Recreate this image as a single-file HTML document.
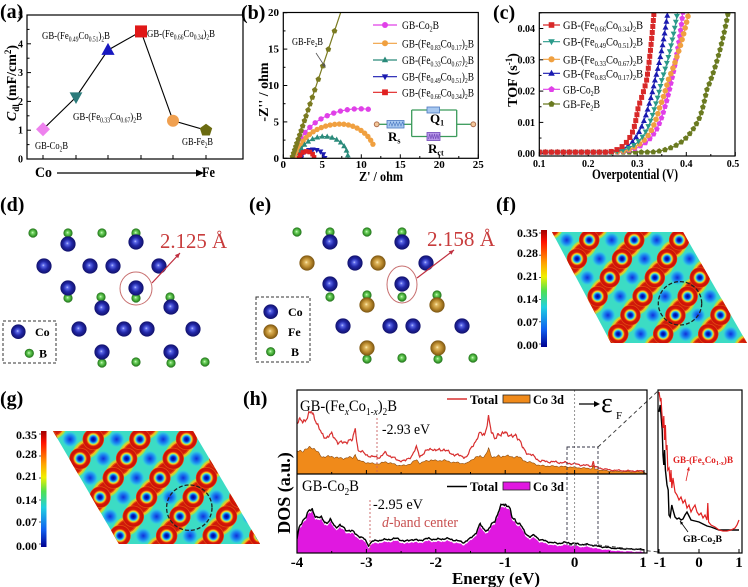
<!DOCTYPE html>
<html><head><meta charset="utf-8">
<style>
html,body{margin:0;padding:0;background:#fff;}
svg{display:block;}
text{font-family:"Liberation Serif",serif;}
.sa{font-family:"Liberation Sans",sans-serif;font-weight:bold;font-size:12px;}
.b{font-weight:bold;}
</style></head><body>
<svg id="c" xmlns="http://www.w3.org/2000/svg" width="748" height="587" viewBox="0 0 748 587">
<defs>
<radialGradient id="gCo" cx="50%" cy="50%" r="50%" fx="45%" fy="45%"><stop offset="0" stop-color="#c0c8ff"/><stop offset="0.18" stop-color="#5a66e8"/><stop offset="0.55" stop-color="#2228a8"/><stop offset="1" stop-color="#10106a"/></radialGradient>
<radialGradient id="gFe" cx="50%" cy="50%" r="50%" fx="45%" fy="45%"><stop offset="0" stop-color="#fff0b8"/><stop offset="0.2" stop-color="#e0b860"/><stop offset="0.6" stop-color="#b8882c"/><stop offset="1" stop-color="#7a5410"/></radialGradient>
<radialGradient id="gB" cx="50%" cy="50%" r="50%" fx="45%" fy="45%"><stop offset="0" stop-color="#e0ffd8"/><stop offset="0.25" stop-color="#78d868"/><stop offset="0.7" stop-color="#3ca030"/><stop offset="1" stop-color="#1e6a18"/></radialGradient>
<linearGradient id="jet" x1="0" y1="0" x2="0" y2="1"><stop offset="0" stop-color="#a00000"/><stop offset="0.1" stop-color="#ff1000"/><stop offset="0.28" stop-color="#ffa000"/><stop offset="0.4" stop-color="#f0f000"/><stop offset="0.52" stop-color="#50e050"/><stop offset="0.66" stop-color="#20d0e0"/><stop offset="0.85" stop-color="#1060f0"/><stop offset="1" stop-color="#000090"/></linearGradient>
<radialGradient id="gRing" cx="50%" cy="50%" r="50%"><stop offset="0" stop-color="#000090"/><stop offset="0.2" stop-color="#0030d0"/><stop offset="0.32" stop-color="#20a0f0"/><stop offset="0.4" stop-color="#60e0c0"/><stop offset="0.48" stop-color="#f0e020"/><stop offset="0.56" stop-color="#f07010"/><stop offset="0.64" stop-color="#d81808"/><stop offset="0.88" stop-color="#c81008"/><stop offset="0.96" stop-color="#e85010"/><stop offset="1" stop-color="#f0a020" stop-opacity="0"/></radialGradient>
<radialGradient id="gDot" cx="50%" cy="50%" r="50%"><stop offset="0" stop-color="#1030d8"/><stop offset="0.45" stop-color="#1a80f0"/><stop offset="0.8" stop-color="#30c8e0"/><stop offset="1" stop-color="#3cdcc4" stop-opacity="0"/></radialGradient>
<clipPath id="cf"><polygon points="552,232 683,232 747,343 611,343"/></clipPath>
<clipPath id="cg"><polygon points="53,431 193,431 260,544 119,544"/></clipPath>
<clipPath id="cb"><rect x="283" y="12" width="195" height="146.3"/></clipPath>
<clipPath id="cc"><rect x="539" y="12.7" width="196" height="143.3"/></clipPath>
<clipPath id="ch"><rect x="297" y="390" width="350" height="163"/></clipPath>
<clipPath id="ci"><rect x="658" y="390" width="84" height="163"/></clipPath>
</defs>
<rect width="748" height="587" fill="#fff"/>
<g id="La"></g><g id="Lb"></g><g id="Lc"></g><g id="Ld"></g><g id="Lf"></g><g id="Lh"></g>

<!-- frames -->
<g fill="none" stroke="#000" stroke-width="1.2">
<rect x="27" y="15" width="216" height="144"/>
<rect x="283.3" y="12.5" width="195" height="145.8"/>
<rect x="539.3" y="12.7" width="195.7" height="143.3"/>
<rect x="297" y="390" width="350" height="163"/>
<line x1="297" y1="474" x2="647" y2="474"/>
<rect x="658" y="390" width="84" height="163"/>
</g>

<!-- panel labels -->
<g class="b" font-size="20">
<text x="0" y="18">(a)</text>
<text x="241" y="19">(b)</text>
<text x="493" y="19">(c)</text>
<text x="0" y="211">(d)</text>
<text x="249" y="211">(e)</text>
<text x="496" y="211">(f)</text>
<text x="0" y="405">(g)</text>
<text x="243" y="405">(h)</text>
</g>

<!-- (a) text -->
<g class="b" font-size="10" text-anchor="end">
<text x="23" y="162.5">0</text><text x="23" y="133.7">1</text><text x="23" y="104.9">2</text><text x="23" y="76.1">3</text><text x="23" y="47.3">4</text><text x="23" y="18.5">5</text>
</g>
<text class="b" font-size="14" transform="translate(16,83) rotate(-90)" text-anchor="middle"><tspan font-style="italic">C</tspan><tspan font-size="9" dy="3">dl</tspan><tspan dy="-3"> (mF/cm</tspan><tspan font-size="9" dy="-5">2</tspan><tspan dy="5">)</tspan></text>
<g font-size="11">
<text x="42" y="39" textLength="68" lengthAdjust="spacingAndGlyphs">GB-(Fe<tspan font-size="7" dy="2.5">0.49</tspan><tspan dy="-2.5">Co</tspan><tspan font-size="7" dy="2.5">0.51</tspan><tspan dy="-2.5">)</tspan><tspan font-size="7" dy="2.5">2</tspan><tspan dy="-2.5">B</tspan></text>
<text x="147" y="37" textLength="68" lengthAdjust="spacingAndGlyphs">GB-(Fe<tspan font-size="7" dy="2.5">0.66</tspan><tspan dy="-2.5">Co</tspan><tspan font-size="7" dy="2.5">0.34</tspan><tspan dy="-2.5">)</tspan><tspan font-size="7" dy="2.5">2</tspan><tspan dy="-2.5">B</tspan></text>
<text x="73" y="120" textLength="69" lengthAdjust="spacingAndGlyphs">GB-(Fe<tspan font-size="7" dy="2.5">0.33</tspan><tspan dy="-2.5">Co</tspan><tspan font-size="7" dy="2.5">0.67</tspan><tspan dy="-2.5">)</tspan><tspan font-size="7" dy="2.5">2</tspan><tspan dy="-2.5">B</tspan></text>
<text x="35" y="149" textLength="33" lengthAdjust="spacingAndGlyphs">GB-Co<tspan font-size="7" dy="2.5">2</tspan><tspan dy="-2.5">B</tspan></text>
<text x="182" y="145" textLength="31" lengthAdjust="spacingAndGlyphs">GB-Fe<tspan font-size="7" dy="2.5">2</tspan><tspan dy="-2.5">B</tspan></text>
</g>
<g class="b" font-size="15">
<text x="35" y="177" textLength="17" lengthAdjust="spacingAndGlyphs">Co</text>
<text x="202" y="177" textLength="13" lengthAdjust="spacingAndGlyphs">Fe</text>
</g>
<line x1="57" y1="173" x2="198" y2="173" stroke="#000" stroke-width="1.3"/>
<polygon points="196,169.5 204,173 196,176.5" fill="#000"/>

<!-- (b) text -->
<g class="b" font-size="11" text-anchor="end">
<text x="279" y="162">0</text><text x="279" y="125.5">5</text><text x="279" y="89">10</text><text x="279" y="52.6">15</text><text x="279" y="16.2">20</text>
</g>
<g class="b" font-size="11" text-anchor="middle">
<text x="283.3" y="168">0</text><text x="322.3" y="168">5</text><text x="361.3" y="168">10</text><text x="400.3" y="168">15</text><text x="439.3" y="168">20</text><text x="478.3" y="168">25</text>
</g>
<text class="b" font-size="14" x="381" y="181" text-anchor="middle" textLength="44" lengthAdjust="spacingAndGlyphs">Z' / ohm</text>
<text class="b" font-size="14" transform="translate(268,92) rotate(-90)" text-anchor="middle">-Z'' / ohm</text>
<text x="292" y="45" font-size="10" textLength="31" lengthAdjust="spacingAndGlyphs">GB-Fe<tspan font-size="6.5" dy="2">2</tspan><tspan dy="-2">B</tspan></text>
<g font-size="12">
<text x="402" y="29" textLength="37" lengthAdjust="spacingAndGlyphs">GB-Co<tspan font-size="7.5" dy="2.5">2</tspan><tspan dy="-2.5">B</tspan></text>
<text x="402" y="47.3" textLength="72" lengthAdjust="spacingAndGlyphs">GB-(Fe<tspan font-size="7.5" dy="2.5">0.83</tspan><tspan dy="-2.5">Co</tspan><tspan font-size="7.5" dy="2.5">0.17</tspan><tspan dy="-2.5">)</tspan><tspan font-size="7.5" dy="2.5">2</tspan><tspan dy="-2.5">B</tspan></text>
<text x="402" y="64" textLength="72" lengthAdjust="spacingAndGlyphs">GB-(Fe<tspan font-size="7.5" dy="2.5">0.33</tspan><tspan dy="-2.5">Co</tspan><tspan font-size="7.5" dy="2.5">0.67</tspan><tspan dy="-2.5">)</tspan><tspan font-size="7.5" dy="2.5">2</tspan><tspan dy="-2.5">B</tspan></text>
<text x="402" y="80.7" textLength="72" lengthAdjust="spacingAndGlyphs">GB-(Fe<tspan font-size="7.5" dy="2.5">0.49</tspan><tspan dy="-2.5">Co</tspan><tspan font-size="7.5" dy="2.5">0.51</tspan><tspan dy="-2.5">)</tspan><tspan font-size="7.5" dy="2.5">2</tspan><tspan dy="-2.5">B</tspan></text>
<text x="402" y="96.3" textLength="72" lengthAdjust="spacingAndGlyphs">GB-(Fe<tspan font-size="7.5" dy="2.5">0.66</tspan><tspan dy="-2.5">Co</tspan><tspan font-size="7.5" dy="2.5">0.34</tspan><tspan dy="-2.5">)</tspan><tspan font-size="7.5" dy="2.5">2</tspan><tspan dy="-2.5">B</tspan></text>
</g>
<!-- circuit -->
<g stroke="#3a9a5a" stroke-width="1.3" fill="none">
<line x1="379" y1="124.3" x2="387" y2="124.3"/><line x1="404" y1="124.3" x2="411.7" y2="124.3"/>
<line x1="411.7" y1="110" x2="411.7" y2="136.5"/><line x1="456.7" y1="110" x2="456.7" y2="136.5"/>
<line x1="411.7" y1="110" x2="456.7" y2="110"/><line x1="411.7" y1="136.5" x2="456.7" y2="136.5"/>
<line x1="456.7" y1="124.3" x2="471" y2="124.3"/>
</g>
<circle cx="376.7" cy="124.3" r="2.4" fill="#f4c89a" stroke="#b07050"/>
<circle cx="473.3" cy="124.3" r="2.4" fill="#f4c89a" stroke="#b07050"/>
<rect x="387" y="120.5" width="17" height="7.5" fill="#a8c8f0" stroke="#4a78c0" stroke-width="0.8"/>
<path d="M389,126 l1.5,-4 l1.5,4 l1.5,-4 l1.5,4 l1.5,-4 l1.5,4 l1.5,-4 l1.5,4 l1.5,-4 l1.5,4" fill="none" stroke="#4a78c0" stroke-width="0.6"/>
<rect x="427" y="107" width="12.5" height="6" fill="#a8c8f0" stroke="#4a78c0" stroke-width="0.8"/>
<rect x="427" y="132.5" width="13" height="8" fill="#b898e8" stroke="#7048b8" stroke-width="0.8"/>
<path d="M428.5,139 l1.2,-5 l1.2,5 l1.2,-5 l1.2,5 l1.2,-5 l1.2,5 l1.2,-5 l1.2,5 l1.2,-5" fill="none" stroke="#7048b8" stroke-width="0.6"/>
<g class="b" font-size="13">
<text x="430" y="123">Q<tspan font-size="8" dy="2.5">1</tspan></text>
<text x="388" y="141">R<tspan font-size="8" dy="2.5">s</tspan></text>
<text x="428" y="153">R<tspan font-size="8" dy="2.5">ct</tspan></text>
</g>

<!-- (c) text -->
<g class="b" font-size="10" text-anchor="end">
<text x="535" y="157.2">0.00</text><text x="535" y="125.9">0.01</text><text x="535" y="94.6">0.02</text><text x="535" y="63.3">0.03</text><text x="535" y="32">0.04</text>
</g>
<g class="b" font-size="10" text-anchor="middle">
<text x="539.3" y="167">0.1</text><text x="588.3" y="167">0.2</text><text x="637.3" y="167">0.3</text><text x="686.3" y="167">0.4</text><text x="733" y="167">0.5</text>
</g>
<text class="b" font-size="15" x="635" y="179" text-anchor="middle" textLength="86" lengthAdjust="spacingAndGlyphs">Overpotential (V)</text>
<text class="b" font-size="14" transform="translate(517,80) rotate(-90)" text-anchor="middle">TOF (s<tspan font-size="9" dy="-5">-1</tspan><tspan dy="5">)</tspan></text>
<g font-size="12">
<text x="563" y="29" textLength="80" lengthAdjust="spacingAndGlyphs">GB-(Fe<tspan font-size="7.5" dy="2.5">0.66</tspan><tspan dy="-2.5">Co</tspan><tspan font-size="7.5" dy="2.5">0.34</tspan><tspan dy="-2.5">)</tspan><tspan font-size="7.5" dy="2.5">2</tspan><tspan dy="-2.5">B</tspan></text>
<text x="563" y="45.7" textLength="80" lengthAdjust="spacingAndGlyphs">GB-(Fe<tspan font-size="7.5" dy="2.5">0.49</tspan><tspan dy="-2.5">Co</tspan><tspan font-size="7.5" dy="2.5">0.51</tspan><tspan dy="-2.5">)</tspan><tspan font-size="7.5" dy="2.5">2</tspan><tspan dy="-2.5">B</tspan></text>
<text x="563" y="63.3" textLength="80" lengthAdjust="spacingAndGlyphs">GB-(Fe<tspan font-size="7.5" dy="2.5">0.33</tspan><tspan dy="-2.5">Co</tspan><tspan font-size="7.5" dy="2.5">0.67</tspan><tspan dy="-2.5">)</tspan><tspan font-size="7.5" dy="2.5">2</tspan><tspan dy="-2.5">B</tspan></text>
<text x="563" y="77.3" textLength="80" lengthAdjust="spacingAndGlyphs">GB-(Fe<tspan font-size="7.5" dy="2.5">0.83</tspan><tspan dy="-2.5">Co</tspan><tspan font-size="7.5" dy="2.5">0.17</tspan><tspan dy="-2.5">)</tspan><tspan font-size="7.5" dy="2.5">2</tspan><tspan dy="-2.5">B</tspan></text>
<text x="563" y="93.3" textLength="37" lengthAdjust="spacingAndGlyphs">GB-Co<tspan font-size="7.5" dy="2.5">2</tspan><tspan dy="-2.5">B</tspan></text>
<text x="563" y="108" textLength="37" lengthAdjust="spacingAndGlyphs">GB-Fe<tspan font-size="7.5" dy="2.5">2</tspan><tspan dy="-2.5">B</tspan></text>
</g>

<!-- (d)(e) text -->
<text x="160" y="248" font-size="21" fill="#c83c3c" textLength="67" lengthAdjust="spacingAndGlyphs">2.125 Å</text>
<text x="427" y="246" font-size="21" fill="#c83c3c" textLength="68" lengthAdjust="spacingAndGlyphs">2.158 Å</text>
<g class="b" font-size="12">
<text x="35" y="336">Co</text><text x="39" y="357.5">B</text>
<text x="288" y="316">Co</text><text x="288" y="336">Fe</text><text x="291" y="356">B</text>
</g>

<!-- (f)(g) colorbar labels -->
<g class="sa" text-anchor="end">
<text x="538" y="237">0.35</text><text x="538" y="257">0.28</text><text x="538" y="280">0.21</text><text x="538" y="303">0.14</text><text x="538" y="326">0.07</text><text x="538" y="349">0.00</text>
<text x="37" y="439">0.35</text><text x="37" y="458">0.28</text><text x="37" y="480">0.21</text><text x="37" y="504">0.14</text><text x="37" y="526">0.07</text><text x="37" y="550">0.00</text>
</g>

<!-- (h) text -->
<text x="300" y="411" font-size="16" textLength="97" lengthAdjust="spacingAndGlyphs">GB-(Fe<tspan font-size="10" dy="4" font-style="italic">x</tspan><tspan dy="-4">Co</tspan><tspan font-size="10" dy="4">1-<tspan font-style="italic">x</tspan></tspan><tspan dy="-4">)</tspan><tspan font-size="10" dy="4">2</tspan><tspan dy="-4">B</tspan></text>
<text x="382" y="434" font-size="15" textLength="48" lengthAdjust="spacingAndGlyphs">-2.93 eV</text>
<text x="302" y="491" font-size="16" textLength="57" lengthAdjust="spacingAndGlyphs">GB-Co<tspan font-size="10" dy="4">2</tspan><tspan dy="-4">B</tspan></text>
<text x="373" y="509" font-size="15" textLength="50" lengthAdjust="spacingAndGlyphs">-2.95 eV</text>
<text x="382" y="527" font-size="15" fill="#c85050" textLength="76" lengthAdjust="spacingAndGlyphs"><tspan font-style="italic">d</tspan>-band center</text>
<g class="b" font-size="13">
<text x="470" y="404" textLength="28" lengthAdjust="spacingAndGlyphs">Total</text>
<text x="533" y="404" textLength="31" lengthAdjust="spacingAndGlyphs">Co 3d</text>
<text x="470" y="491" textLength="28" lengthAdjust="spacingAndGlyphs">Total</text>
<text x="533" y="491" textLength="31" lengthAdjust="spacingAndGlyphs">Co 3d</text>
</g>
<line x1="447" y1="399" x2="467" y2="399" stroke="#d83030" stroke-width="1.5"/>
<rect x="503" y="395" width="27" height="8" fill="#f08a1a" stroke="#222" stroke-width="0.8"/>
<line x1="447" y1="486.5" x2="467" y2="486.5" stroke="#000" stroke-width="1.5"/>
<rect x="503" y="482" width="27" height="8" fill="#e018e0" stroke="#222" stroke-width="0.8"/>
<line x1="579" y1="404" x2="596" y2="404" stroke="#000" stroke-width="1.2"/>
<polygon points="594,401 600,404 594,407" fill="#000"/>
<text x="601" y="412" font-size="28">ε</text>
<text x="616" y="419" font-size="11">F</text>
<g class="b" font-size="15" text-anchor="middle">
<text x="297" y="567">-4</text><text x="366.4" y="567">-3</text><text x="435.8" y="567">-2</text><text x="505.2" y="567">-1</text><text x="574.6" y="567">0</text><text x="643" y="567">1</text>
<text x="660" y="567">-1</text><text x="699" y="567">0</text><text x="739" y="567">1</text>
</g>
<text class="b" font-size="17" x="496" y="584" text-anchor="middle" textLength="88" lengthAdjust="spacingAndGlyphs">Energy (eV)</text>
<text class="b" font-size="18" transform="translate(290,493) rotate(-90)" text-anchor="middle">DOS (a.u.)</text>
<text class="b" x="673" y="463" font-size="9" fill="#e02020" textLength="60" lengthAdjust="spacingAndGlyphs">GB-(Fe<tspan font-size="6" dy="2">x</tspan><tspan dy="-2">Co</tspan><tspan font-size="6" dy="2">1-x</tspan><tspan dy="-2">)B</tspan></text>
<text class="b" x="683" y="542" font-size="9" fill="#000" textLength="39" lengthAdjust="spacingAndGlyphs">GB-Co<tspan font-size="6" dy="2">2</tspan><tspan dy="-2">B</tspan></text>
</svg>
<script>
(function(){
const NS='http://www.w3.org/2000/svg';
function E(t,a,p){const e=document.createElementNS(NS,t);for(const k in a)e.setAttribute(k,a[k]);p.appendChild(e);return e;}
function poly(pts){return pts.map(p=>p[0].toFixed(1)+','+p[1].toFixed(1)).join(' ');}
function mk(p,t,x,y,s,f){
 if(t==='c')return E('circle',{cx:x,cy:y,r:s,fill:f},p);
 if(t==='sq')return E('rect',{x:x-s,y:y-s,width:2*s,height:2*s,fill:f},p);
 if(t==='tri')return E('polygon',{points:poly([[x,y-1.2*s],[x+1.1*s,y+0.8*s],[x-1.1*s,y+0.8*s]]),fill:f},p);
 if(t==='itri')return E('polygon',{points:poly([[x,y+1.2*s],[x+1.1*s,y-0.8*s],[x-1.1*s,y-0.8*s]]),fill:f},p);
 if(t==='dia')return E('polygon',{points:poly([[x,y-s],[x+s,y],[x,y+s],[x-s,y]]),fill:f},p);
 if(t==='pent'){const q=[];for(let k=0;k<5;k++){const a=-Math.PI/2+k*2*Math.PI/5;q.push([x+s*Math.cos(a),y+s*Math.sin(a)]);}return E('polygon',{points:poly(q),fill:f},p);}
}
function along(p,pts,d,t,s,f){
 let prev=pts[0];mk(p,t,prev[0],prev[1],s,f);let rem=d;
 for(let i=1;i<pts.length;i++){let a=prev,b=pts[i];let seg=Math.hypot(b[0]-a[0],b[1]-a[1]);
  while(seg>=rem){const r=rem/seg;const nx=a[0]+(b[0]-a[0])*r,ny=a[1]+(b[1]-a[1])*r;mk(p,t,nx,ny,s,f);a=[nx,ny];seg-=rem;rem=d;}
  rem-=seg;prev=b;}
}
function line(p,x1,y1,x2,y2,c,w,extra){const a={x1:x1,y1:y1,x2:x2,y2:y2,stroke:c,'stroke-width':w};if(extra)for(const k in extra)a[k]=extra[k];return E('line',a,p);}
function arrow(p,x1,y1,x2,y2,c,w,h){line(p,x1,y1,x2,y2,c,w);const ang=Math.atan2(y2-y1,x2-x1);const q=[[x2,y2],[x2-h*Math.cos(ang)+h*0.45*Math.sin(ang),y2-h*Math.sin(ang)-h*0.45*Math.cos(ang)],[x2-h*Math.cos(ang)-h*0.45*Math.sin(ang),y2-h*Math.sin(ang)+h*0.45*Math.cos(ang)]];E('polygon',{points:poly(q),fill:c},p);}
function lin(pts,x){if(x<=pts[0][0])return pts[0][1];for(let i=1;i<pts.length;i++){if(x<=pts[i][0]){const a=pts[i-1],b=pts[i];return a[1]+(b[1]-a[1])*(x-a[0])/(b[0]-a[0]);}}return pts[pts.length-1][1];}
function nz(e,s){return 0.5*Math.sin(e*41+s)+0.3*Math.sin(e*97+s*2.3)+0.2*Math.sin(e*187+s*1.7);}

/* ---------- (a) ---------- */
const La=document.getElementById('La');
for(let v=0;v<=5;v++){const y=159-v*28.8;line(La,27,y,31,y,'#000',1);if(v<5)line(La,27,y-14.4,29.5,y-14.4,'#000',1);}
const ax=[43,76,108,141,173,206],av=[1.03,2.15,3.78,4.43,1.33,1.0];
ax.forEach(x=>line(La,x,159,x,155,'#000',1));
E('polyline',{points:poly(ax.map((x,i)=>[x,159-av[i]*28.8])),fill:'none',stroke:'#000','stroke-width':1.1},La);
const am=[['dia','#ee82ee',7],['itri','#2b7b7b',5.8],['tri','#1818c0',6],['sq','#e01818',6],['c','#f0a050',6],['pent','#6b6b10',6.5]];
am.forEach((m,i)=>mk(La,m[0],ax[i],159-av[i]*28.8,m[2],m[1]));

/* ---------- (b) ---------- */
const Lb=document.getElementById('Lb');
for(let v=0;v<=20;v+=5){const y=158.3-v*7.28;line(Lb,283.3,y,287.3,y,'#000',1);if(v<20)line(Lb,283.3,y-18.2,285.5,y-18.2,'#000',1);}
for(let z=0;z<=25;z+=5){const x=283.3+z*7.8;line(Lb,x,158.3,x,154.3,'#000',1);if(z<25)line(Lb,x+19.5,158.3,x+19.5,156,'#000',1);}
const XB=z=>283.3+z*7.8,YB=v=>158.3-v*7.28;
function ell(xc,rxL,rxR,ry,t0,t1,n){const pts=[];for(let k=0;k<=n;k++){const th=(t0+(t1-t0)*k/n)*Math.PI/180;const c=Math.cos(th);const rx=c<0?rxL:rxR;pts.push([XB(xc+rx*c),YB(ry*Math.sin(th))]);}return pts;}
const gb=E('g',{'clip-path':'url(#cb)'},Lb);
const bs=[
 {c:'#e040e8',m:'c',s:2.7,d:7,p:ell(9.8,8.2,8.2,6.8,180,80,120)},
 {c:'#f0a040',m:'c',s:2.7,d:4.6,p:ell(7.3,5.5,4.6,4.7,180,22,120)},
 {c:'#2a8a7a',m:'tri',s:2.6,d:5,p:ell(5.3,3.3,3.0,3.0,180,0,100)},
 {c:'#1a1ab0',m:'itri',s:2.6,d:4,p:ell(3.8,1.5,1.5,1.2,180,0,60)},
 {c:'#e02020',m:'sq',s:2.3,d:3.6,p:ell(3.0,0.95,0.95,0.95,180,0,60)}
];
bs.forEach(s=>{E('polyline',{points:poly(s.p),fill:'none',stroke:s.c,'stroke-width':1.1},gb);along(gb,s.p,s.d,s.m,s.s,s.c);});
line(gb,XB(1.1),YB(0),XB(1.1+21/3.2),YB(21),'#7a7a20',1.2);
[31,49.3,66,79.3,90,97.3,104,110,116,120.7,126,130.7,135,139.3,143.3,146.7,150,153.3,156.7].forEach(y=>{const v=(158.3-y)/7.28;mk(gb,'pent',XB(1.1+v/3.2),y,3,'#7a7a20');});
arrow(Lb,316,53,325.5,67.5,'#555',0.8,4);
const bly=[25,43.3,60,76.7,92.3];
bs.forEach((s,i)=>{line(Lb,373,bly[i],397,bly[i],s.c,1.2);mk(Lb,s.m,385,bly[i],s.m==='c'?3:2.9,s.c);});

/* ---------- (c) ---------- */
const Lc=document.getElementById('Lc');
const XC=e=>539.3+(e-0.1)*490,YC=t=>153.7-t*3130;
for(let t=0;t<=0.04001;t+=0.01){const y=YC(t);line(Lc,539.3,y,543.3,y,'#000',1);line(Lc,539.3,y-15.65,541.5,y-15.65,'#000',1);}
for(let e=0.1;e<=0.5001;e+=0.1){const x=XC(e);line(Lc,x,156,x,152,'#000',1);if(e<0.45)line(Lc,x+24.5,156,x+24.5,154,'#000',1);}
function tofF(p,eta){const n=p.length;if(eta<=p[0][0])return p[0][1];let i=1;while(i<n-1&&eta>p[i][0])i++;const a=p[i-1],b=p[i];const la=Math.log(a[1]),lb=Math.log(b[1]);return Math.exp(la+(lb-la)*(eta-a[0])/(b[0]-a[0]));}
const cs=[
 {c:'#d82828',m:'sq',s:2.5,p:[[0.24,0.0005],[0.292,0.0076],[0.302,0.015],[0.319,0.0235],[0.334,0.045]]},
 {c:'#2a9a8a',m:'itri',s:2.7,p:[[0.25,0.0005],[0.319,0.0076],[0.336,0.015],[0.35,0.0235],[0.382,0.045]]},
 {c:'#f0a040',m:'c',s:2.8,p:[[0.255,0.0005],[0.329,0.0076],[0.346,0.015],[0.363,0.0235],[0.405,0.045]]},
 {c:'#1a1ab0',m:'tri',s:2.7,p:[[0.245,0.0005],[0.3055,0.0076],[0.3225,0.015],[0.336,0.0235],[0.362,0.045]]},
 {c:'#e040e8',m:'pent',s:3,p:[[0.26,0.0005],[0.339,0.0076],[0.3565,0.015],[0.37,0.0235],[0.393,0.045]]},
 {c:'#6a7a20',m:'pent',s:3,p:[[0.33,0.0005],[0.373,0.0022],[0.4076,0.0065],[0.428,0.0118],[0.4416,0.0203],[0.483,0.043]]}
];
const gc=E('g',{'clip-path':'url(#cc)'},Lc);
for(let k=cs.length-1;k>=0;k--){const s=cs[k];const pts=[];for(let e=0.1;e<=0.5;e+=0.0005){const y=YC(tofF(s.p,e));pts.push([XC(e),y]);if(y<11)break;}
 E('polyline',{points:poly(pts),fill:'none',stroke:s.c,'stroke-width':1},gc);along(gc,pts,6,s.m,s.s,s.c);}
const cly=[25,41.7,59.3,73.3,89.3,104];
cs.forEach((s,i)=>{line(Lc,543,cly[i],560,cly[i],s.c,1.2);mk(Lc,s.m,551.5,cly[i],s.s+0.3,s.c);});

/* ---------- (d)(e) ---------- */
const Ld=document.getElementById('Ld');
function at(list,g,r){list.forEach(p=>E('circle',{cx:p[0],cy:p[1],r:r,fill:'url(#'+g+')'},Ld));}
at([[33,233],[68,233],[102,233],[136,233],[68,298],[136,298],[101,297],[170,297],[102,363],[171,363],[136,362],[205,362]],'gB',4.6);
at([[68,244],[136,242],[44,266],[90,266],[113,266],[159,266],[68,288],[136,288],[102,308],[171,307],[79,329],[124,329],[147,329],[193,329],[102,352],[171,352]],'gCo',7.6);
E('ellipse',{cx:136,cy:288.5,rx:16,ry:16.5,fill:'none',stroke:'#c87070','stroke-width':1},Ld);
arrow(Ld,152,283,180,253,'#c03040',1.2,5);
E('rect',{x:3,y:321,width:53,height:42,fill:'none',stroke:'#333','stroke-width':1,'stroke-dasharray':'3,2'},Ld);
at([[18.3,331.7]],'gCo',7.3);at([[29.3,353.3]],'gB',4.6);
at([[297,232],[330,232],[367,232],[402,232],[330,297],[402,297],[367,295],[437,295],[367,359],[438,359],[402,358],[473,358]],'gB',4.6);
at([[330,242],[402,242],[355,263],[426,263],[330,284],[402,284],[343,326],[390,326],[413,326],[462,326]],'gCo',7.6);
at([[307,263],[378,263],[367,305],[437,305],[367,348],[438,348]],'gFe',7.6);
E('ellipse',{cx:402,cy:284.5,rx:15,ry:18.5,fill:'none',stroke:'#c87070','stroke-width':1},Ld);
arrow(Ld,417,278,454,250,'#c03040',1.2,5);
E('rect',{x:256,y:297,width:54,height:65,fill:'none',stroke:'#333','stroke-width':1,'stroke-dasharray':'3,2'},Ld);
at([[270.7,311.7]],'gCo',7.3);at([[270.7,331.7]],'gFe',7.3);at([[270.7,351.7]],'gB',4.6);

/* ---------- (f)(g) ---------- */
const Lf=document.getElementById('Lf');
function contour(clip,x0,y0,dx,sx,dy,rr,circ,cb){
 const g=E('g',{'clip-path':'url(#'+clip+')'},Lf);
 E('rect',{x:0,y:0,width:748,height:587,fill:'#3cdcc4'},g);
 const sites=[];
 for(let j=-1;j<=6;j++)for(let i=-2;i<=8;i++){const red=(((i+j)%2)+2)%2===1;sites.push({i:i,j:j,x:x0+j*sx+i*dx,y:y0+j*dy,red:red});}
 const pos=(i,j)=>[x0+j*sx+i*dx,y0+j*dy];
 const layers=[[rr*1.75,'#a0e050'],[rr*1.5,'#f0c020'],[rr*1.25,'#e85010'],[rr*1.05,'#d01a0a']];
 layers.forEach(L=>{sites.forEach(s=>{if(!s.red)return;const q=pos(s.i+1,s.j-1);
   const mx=(s.x+q[0])/2,my=(s.y+q[1])/2;
   E('path',{d:`M${s.x.toFixed(1)},${s.y.toFixed(1)} Q${(mx-4).toFixed(1)},${(my+1).toFixed(1)} ${mx.toFixed(1)},${my.toFixed(1)} T${q[0].toFixed(1)},${q[1].toFixed(1)}`,fill:'none',stroke:L[1],'stroke-width':L[0],'stroke-linecap':'round'},g);});});
 sites.forEach(s=>{if(!s.red)E('circle',{cx:s.x,cy:s.y,r:rr*0.75,fill:'url(#gDot)'},g);});
 sites.forEach(s=>{if(s.red)E('circle',{cx:s.x,cy:s.y,r:rr,fill:'url(#gRing)'},g);});
 E('circle',{cx:circ[0],cy:circ[1],r:circ[2],fill:'none',stroke:'#222','stroke-width':1.3,'stroke-dasharray':'4,2'},Lf);
 E('rect',{x:cb[0],y:cb[1],width:cb[2],height:cb[3],fill:'url(#jet)'},Lf);
 for(let k=0;k<=5;k++){const y=cb[1]+3+k*(cb[3]-6)/5;line(Lf,cb[0]-2,y,cb[0],y,'#333',0.8);}
}
contour('cf',566.7,240,22.5,10.3,18.8,10.5,[680,303.3,21.7],[541,230,6,117]);
contour('cg',70,439.3,23.3,10,19.3,11,[189.3,507.7,22.7],[41,431,5.5,116]);

/* ---------- (h) ---------- */
const Lh=document.getElementById('Lh');
const XE=e=>297+(e+4)*69.4;
const envT=[[-4,50],[-3.95,53],[-3.88,55],[-3.84,57],[-3.79,62],[-3.74,57],[-3.69,46],[-3.64,39],[-3.57,37],[-3.5,39],[-3.45,36],[-3.4,31],[-3.33,31],[-3.26,34],[-3.2,33],[-3.16,46],[-3.12,24],[-3.02,20],[-2.92,17],[-2.8,17],[-2.73,21],[-2.63,17],[-2.56,14],[-2.44,13],[-2.35,18],[-2.28,26],[-2.23,18],[-2.13,23],[-2.06,26],[-2.0,23],[-1.89,25],[-1.8,21],[-1.65,18],[-1.55,17],[-1.46,30],[-1.36,40],[-1.3,40],[-1.24,56],[-1.2,41],[-1.15,37],[-1.1,40],[-1.06,37],[-1.0,44],[-0.95,39],[-0.9,36],[-0.85,40],[-0.8,35],[-0.75,26],[-0.7,22],[-0.6,18],[-0.5,13],[-0.3,12],[-0.1,11],[0.1,9],[0.25,8],[0.27,13],[0.29,7],[0.5,4],[0.8,3],[1,3]];
const envB=[[-4,12],[-3.97,22],[-3.9,32],[-3.83,39],[-3.78,40],[-3.72,34],[-3.65,32],[-3.58,28],[-3.52,30],[-3.45,24],[-3.38,25],[-3.3,21],[-3.2,19],[-3.1,14],[-3.02,11],[-2.97,5],[-2.92,9],[-2.85,10],[-2.7,11],[-2.55,12],[-2.45,9],[-2.35,11],[-2.25,10],[-2.1,12],[-2.0,11],[-1.85,12],[-1.7,10],[-1.6,8],[-1.5,12],[-1.42,18],[-1.36,26],[-1.32,22],[-1.25,20],[-1.15,30],[-1.08,42],[-1.02,46],[-0.95,46],[-0.9,32],[-0.85,30],[-0.78,26],[-0.72,18],[-0.65,14],[-0.58,15],[-0.5,11],[-0.4,9],[-0.25,7],[-0.15,8],[0,7],[0.1,6],[0.2,6],[0.35,4],[0.6,2],[1,1]];
const tr=[],to=[],tm=[],tb=[];
for(let k=0;k<=500;k++){const e=-4+k*0.01;const en=lin(envT,e);const a=0.07*en+0.6;const hr=Math.max(1,en+a*nz(e,1));
 const f=0.44+0.3*Math.max(0,(40-hr)/40);const ho=Math.max(0.5,hr*f+0.5*a*nz(e,3));
 tr.push([XE(e),474-hr]);to.push([XE(e),474-ho]);
 const eb=lin(envB,e);const ab=0.06*eb+0.5;const hm=Math.max(0.3,eb+ab*nz(e,7));tm.push([XE(e),553-hm]);tb.push([XE(e),553-hm-2.5]);}
const gh=E('g',{'clip-path':'url(#ch)'},Lh);
E('path',{d:'M297,474 L'+poly(to).replace(/ /g,' L')+' L647,474 Z',fill:'#f08a1a',stroke:'#8a4a10','stroke-width':0.6},gh);
E('polyline',{points:poly(tr),fill:'none',stroke:'#d83030','stroke-width':1.2},gh);
E('path',{d:'M297,553 L'+poly(tm).replace(/ /g,' L')+' L647,553 Z',fill:'#e018e0'},gh);
E('polyline',{points:poly(tb),fill:'none',stroke:'#000','stroke-width':1.4},gh);
line(Lh,574.6,390,574.6,553,'#888',0.9,{'stroke-dasharray':'2,2'});
line(Lh,377,418,377,474,'#c86060',0.9,{'stroke-dasharray':'2,2'});
line(Lh,370,500,370,553,'#c86060',0.9,{'stroke-dasharray':'2,2'});
for(let e=-4;e<=1;e++){const x=XE(e);line(Lh,x,553,x,549,'#000',1);line(Lh,x,474,x,470,'#000',1);if(e<1){line(Lh,x+34.7,553,x+34.7,551,'#000',1);line(Lh,x+34.7,474,x+34.7,472,'#000',1);}}
E('rect',{x:567,y:447,width:31,height:98,fill:'none',stroke:'#334','stroke-width':0.9,'stroke-dasharray':'3,2'},Lh);
line(Lh,598,447,658,391,'#333',0.9,{'stroke-dasharray':'4,3'});
line(Lh,598,545,658,552,'#333',0.9,{'stroke-dasharray':'4,3'});
const XI=e=>659+(e+1)*40;
const ir=[[-1,392],[-0.97,400],[-0.95,398],[-0.93,412],[-0.9,428],[-0.88,416],[-0.86,440],[-0.84,425],[-0.82,450],[-0.8,445],[-0.78,470],[-0.75,468],[-0.72,482],[-0.7,470],[-0.68,488],[-0.65,478],[-0.6,492],[-0.55,495],[-0.5,500],[-0.45,497],[-0.4,503],[-0.35,500],[-0.3,508],[-0.25,505],[-0.2,512],[-0.15,508],[-0.1,505],[-0.05,512],[0,515],[0.05,513],[0.1,518],[0.15,515],[0.2,520],[0.22,503],[0.24,522],[0.3,525],[0.4,527],[0.5,530],[0.6,531],[0.7,531],[0.8,530],[0.9,528],[0.95,525],[1,520]];
const ib=[[-1,412],[-0.97,405],[-0.95,415],[-0.92,430],[-0.9,455],[-0.88,465],[-0.86,450],[-0.84,470],[-0.8,485],[-0.77,490],[-0.75,515],[-0.72,517],[-0.68,505],[-0.65,510],[-0.6,517],[-0.55,519],[-0.5,518],[-0.45,520],[-0.4,519],[-0.35,515],[-0.3,512],[-0.25,516],[-0.2,520],[-0.1,521],[0,522],[0.1,524],[0.2,526],[0.3,527],[0.5,530],[0.7,530],[0.9,530],[1,530]];
const gi=E('g',{'clip-path':'url(#ci)'},Lh);
E('polyline',{points:poly(ib.map(p=>[XI(p[0]),p[1]])),fill:'none',stroke:'#000','stroke-width':1.4},gi);
E('polyline',{points:poly(ir.map(p=>[XI(p[0]),p[1]])),fill:'none',stroke:'#e02020','stroke-width':1.2},gi);
[-1,0,1].forEach(e=>line(Lh,XI(e),553,XI(e),549,'#000',1));
arrow(Lh,686,481,689,467,'#e02020',0.8,3.5);
arrow(Lh,688,532,680,521,'#000',0.8,3.5);
})();
</script>
</body></html>
